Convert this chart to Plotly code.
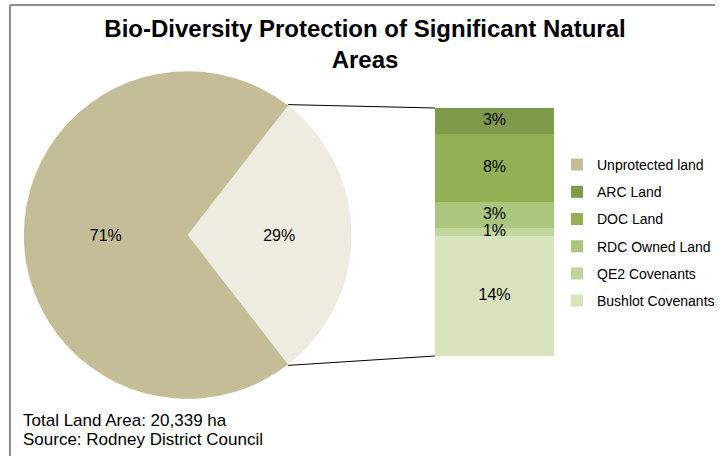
import math
import plotly.graph_objects as go

# ---- data ----
pie_labels = ["Protected", "Unprotected land"]
pie_values = [29, 71]
pie_colors = ["#EEECE1", "#C4BD97"]

bar_labels = ["Bushlot Covenants", "QE2 Covenants", "RDC Owned Land", "DOC Land", "ARC Land"]
bar_values = [14, 1, 3, 8, 3]
bar_colors = ["#D7E4BD", "#C2D69B", "#ABC67F", "#93B055", "#7F9A48"]
legend_rank = [6, 5, 4, 3, 2]

title_text = "<b>Bio-Diversity Protection of Significant Natural<br>Areas</b>"
footer_lines = ["Total Land Area: 20,339 ha", "Source: Rodney District Council"]

W, H = 720, 456
FONT = "Liberation Sans, Arial, sans-serif"


def px(x):
    return x / W


def py(y):
    return (H - y) / H


# ---- geometry ----
pie_cx, pie_cy, pie_r = 189, 235, 165  # px
pie_dom_x = [px(pie_cx - pie_r), px(pie_cx + pie_r)]
pie_dom_y = [py(pie_cy + pie_r), py(pie_cy - pie_r)]
protected_share = pie_values[0] / sum(pie_values)
half_angle = protected_share * 360 / 2
rotation = 90 - half_angle  # clockwise from 12 o'clock

bar_x0, bar_x1, bar_top, bar_bot = 438, 558, 108, 356
bar_dom_x = [px(bar_x0), px(bar_x1)]
bar_dom_y = [py(bar_bot), py(bar_top)]

fig = go.Figure()

fig.add_trace(go.Pie(
    labels=pie_labels, values=pie_values, sort=False, direction="clockwise",
    rotation=rotation, marker=dict(colors=pie_colors, line=dict(width=0)),
    textinfo="percent", textposition="inside", insidetextorientation="horizontal",
    textfont=dict(family=FONT, size=16, color="#000000"),
    domain=dict(x=pie_dom_x, y=pie_dom_y), showlegend=False, hoverinfo="label+percent",
))

# legend-only entry for unprotected land
fig.add_trace(go.Bar(
    x=[0], y=[0], name="Unprotected land", marker=dict(color=pie_colors[1], line=dict(width=0)),
    legendrank=1, legendgroup="g1", hoverinfo="skip",
))

for lab, val, col, rk in zip(bar_labels, bar_values, bar_colors, legend_rank):
    fig.add_trace(go.Bar(
        x=[0], y=[val], name=lab, marker=dict(color=col, line=dict(width=0)),
        legendrank=rk, legendgroup=f"g{rk}", width=1,
    ))

# segment labels drawn on top of all bars
mids, acc = [], 0
for v in bar_values:
    mids.append(acc + v / 2)
    acc += v
fig.add_trace(go.Scatter(
    x=[0] * len(bar_values), y=mids, mode="text", text=[f"{v}%" for v in bar_values],
    textposition="middle center", textfont=dict(family=FONT, size=16, color="#000000"),
    showlegend=False, hoverinfo="skip", cliponaxis=False,
))

# connector lines (from pie slice edges to bar corners)
a = math.radians(half_angle)
p_top = (pie_cx + pie_r * math.cos(a), pie_cy - pie_r * math.sin(a))
p_bot = (pie_cx + pie_r * math.cos(a), pie_cy + pie_r * math.sin(a))
shapes = []
for (sx, sy), ey in [(p_top, bar_top), (p_bot, bar_bot)]:
    shapes.append(dict(type="line", xref="paper", yref="paper",
                       x0=px(sx), y0=py(sy), x1=px(bar_x0), y1=py(ey),
                       line=dict(color="#000000", width=1)))
# chart border
shapes.append(dict(type="line", xref="paper", yref="paper", x0=px(10), y0=py(5), x1=1.0, y1=py(5),
                   line=dict(color="#8C8C8C", width=2)))
shapes.append(dict(type="line", xref="paper", yref="paper", x0=px(10), y0=py(5), x1=px(10), y1=0,
                   line=dict(color="#8C8C8C", width=2)))

annotations = []
for i, line in enumerate(footer_lines):
    annotations.append(dict(text=line, xref="paper", yref="paper", x=px(21), y=py(420 + 19 * i),
                            xanchor="left", yanchor="middle", align="left", showarrow=False,
                            font=dict(family=FONT, size=17, color="#000000")))

fig.update_layout(
    width=W, height=H, margin=dict(l=0, r=0, t=0, b=0),
    paper_bgcolor="white", plot_bgcolor="white",
    barmode="stack", bargap=0,
    font=dict(family=FONT, size=13, color="#000000"),
    title=dict(text=title_text, x=px(365), xanchor="center", y=py(37), yanchor="top",
               font=dict(family=FONT, size=24, color="#000000")),
    xaxis=dict(domain=bar_dom_x, range=[-0.5, 0.5], visible=False, fixedrange=True),
    yaxis=dict(domain=bar_dom_y, range=[0, sum(bar_values)], visible=False, fixedrange=True),
    legend=dict(x=px(561), y=py(149), xanchor="left", yanchor="top", traceorder="grouped",
                font=dict(family=FONT, size=14, color="#000000"),
                itemwidth=30, tracegroupgap=6, bgcolor="rgba(0,0,0,0)"),
    shapes=shapes,
    annotations=annotations,
)

fig.write_html("out.html", config={"displayModeBar": False},
               post_script="document.body.style.margin='0';")
